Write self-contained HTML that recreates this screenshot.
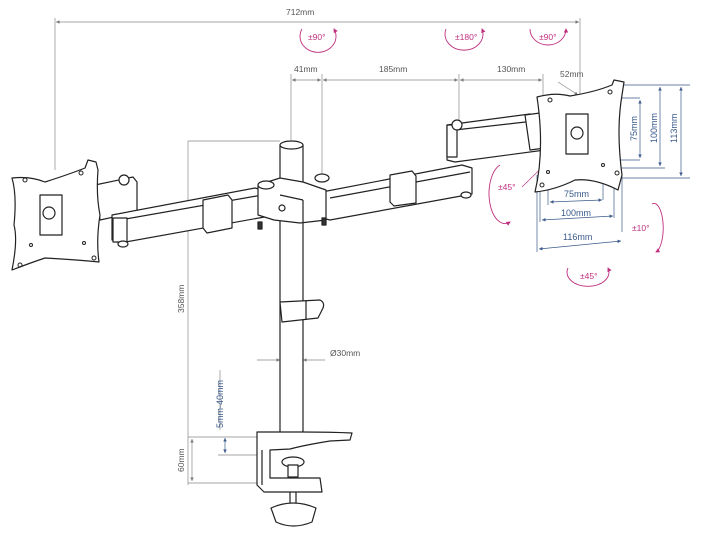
<!DOCTYPE html>
<html><head><meta charset="utf-8"><style>
html,body{margin:0;padding:0;background:#fff;}
svg{display:block;}
text{font-family:"Liberation Sans",sans-serif;}
</style></head><body>
<svg width="701" height="540" viewBox="0 0 701 540" xmlns="http://www.w3.org/2000/svg">
<defs>
<marker id="a" markerWidth="6" markerHeight="6" refX="5" refY="3" orient="auto-start-reverse"><path d="M0,0.5 L5,3 L0,5.5z" fill="#777"/></marker>
<marker id="b" markerWidth="6" markerHeight="6" refX="5" refY="3" orient="auto-start-reverse"><path d="M0,0.5 L5,3 L0,5.5z" fill="#3a5a8a"/></marker>
<marker id="m" markerWidth="6" markerHeight="6" refX="4" refY="3" orient="auto"><path d="M0,0.5 L5,3 L0,5.5z" fill="#c0307f"/></marker>
</defs>
<g stroke="#888" stroke-width="0.7" fill="none">
<line x1="55" y1="18" x2="55" y2="170"/><line x1="580" y1="18" x2="580" y2="95"/>
<line x1="56" y1="22" x2="579" y2="22" marker-start="url(#a)" marker-end="url(#a)"/>
<line x1="291" y1="74" x2="291" y2="140"/><line x1="322" y1="74" x2="322" y2="175"/><line x1="459" y1="74" x2="459" y2="125"/><line x1="543" y1="74" x2="543" y2="95"/>
<line x1="292" y1="80" x2="321" y2="80" marker-start="url(#a)" marker-end="url(#a)"/>
<line x1="323" y1="80" x2="458" y2="80" marker-start="url(#a)" marker-end="url(#a)"/>
<line x1="460" y1="80" x2="542" y2="80" marker-start="url(#a)" marker-end="url(#a)"/>
<line x1="558" y1="82" x2="578" y2="95" marker-end="url(#a)"/>
<line x1="188" y1="141" x2="280" y2="141"/><line x1="188" y1="141" x2="188" y2="485"/>
<line x1="188" y1="437" x2="258" y2="437"/><line x1="188" y1="483" x2="258" y2="483"/>
<line x1="192" y1="439" x2="192" y2="481" marker-start="url(#a)" marker-end="url(#a)"/>
<line x1="257" y1="360" x2="280" y2="360" marker-end="url(#a)"/><line x1="325" y1="360" x2="303" y2="360" marker-end="url(#a)"/><line x1="280" y1="360" x2="303" y2="360"/>
</g>
<g fill="#555" font-size="8.5">
<text x="286" y="15">712mm</text>
<text x="294" y="72">41mm</text><text x="379" y="72">185mm</text><text x="497" y="72">130mm</text><text x="560" y="77">52mm</text>
<text x="330" y="356">Ø30mm</text>
<text transform="translate(184,313) rotate(-90)">358mm</text>
<text transform="translate(184,472) rotate(-90)">60mm</text>
</g>
<g stroke="#3a5a8a" stroke-width="0.7" fill="none">
<line x1="220" y1="370" x2="220" y2="430" stroke="#888"/>
<line x1="225" y1="438" x2="225" y2="453" marker-start="url(#b)" marker-end="url(#b)"/>
<line x1="218" y1="455" x2="265" y2="455" stroke="#888"/>
<line x1="600" y1="98" x2="640" y2="98"/><line x1="610" y1="160" x2="640" y2="160"/>
<line x1="620" y1="85" x2="690" y2="85"/><line x1="622" y1="168" x2="665" y2="168"/><line x1="622" y1="178" x2="690" y2="178"/>
<line x1="640" y1="100" x2="640" y2="158" marker-start="url(#b)" marker-end="url(#b)"/>
<line x1="660" y1="87" x2="660" y2="166" marker-start="url(#b)" marker-end="url(#b)"/>
<line x1="681" y1="87" x2="681" y2="176" marker-start="url(#b)" marker-end="url(#b)"/>
<line x1="537" y1="175" x2="537" y2="252"/><line x1="548" y1="172" x2="548" y2="205"/><line x1="540" y1="185" x2="540" y2="222"/>
<line x1="603" y1="165" x2="603" y2="200"/><line x1="614" y1="170" x2="614" y2="218"/><line x1="622" y1="175" x2="622" y2="232"/>
<line x1="550" y1="202" x2="602" y2="200" marker-start="url(#b)" marker-end="url(#b)"/>
<line x1="542" y1="220" x2="613" y2="216" marker-start="url(#b)" marker-end="url(#b)"/>
<line x1="539" y1="249" x2="621" y2="241" marker-start="url(#b)" marker-end="url(#b)"/>
<line x1="575" y1="135" x2="522" y2="187" stroke="#c0307f" stroke-width="0.6"/>
</g>
<g fill="#3a5a8a" font-size="9">
<text transform="translate(223,428) rotate(-90)">5mm-40mm</text>
<text transform="translate(637,141) rotate(-90)">75mm</text>
<text transform="translate(657,143) rotate(-90)">100mm</text>
<text transform="translate(677,143) rotate(-90)">113mm</text>
<text x="564" y="197">75mm</text><text x="561" y="216">100mm</text><text x="563" y="240">116mm</text>
</g>
<g stroke="#c0307f" stroke-width="0.9" fill="none">
<path d="M302,29 A18,16 0 1 0 334,29" marker-end="url(#m)"/>
<path d="M446,29 A19,16 0 1 0 482,29" marker-end="url(#m)"/>
<path d="M530,29 A18,16 0 1 0 566,29" marker-end="url(#m)"/>
<path d="M500,165 A16,30 0 0 0 510,222" marker-end="url(#m)"/>
<path d="M652,204 A9,24 0 0 1 656,252" marker-end="url(#m)"/>
<path d="M568,268 A21,14 0 1 0 608,268" marker-end="url(#m)"/>
</g>
<g fill="#c0307f" font-size="8.5">
<text x="308" y="40">±90°</text><text x="455" y="40">±180°</text><text x="539" y="40">±90°</text>
<text x="498" y="190">±45°</text><text x="632" y="231">±10°</text><text x="580" y="279">±45°</text>
</g>
<g stroke="#222" stroke-width="1.2" fill="#fff" stroke-linejoin="round">
<rect x="280" y="145" width="23" height="300"/>
<ellipse cx="291.5" cy="145" rx="11.5" ry="4"/>
<polygon points="95,185 133,177 137,182 137,212 100,220"/>
<circle cx="124" cy="180" r="5"/>
<polygon points="112,215 255,188 270,192 270,216 120,243 112,240"/>
<line x1="120" y1="220" x2="268" y2="194"/>
<rect x="113" y="218" width="14" height="24"/>
<polygon points="203,200 228,195 232,200 232,228 207,233 203,228"/>
<ellipse cx="123" cy="244" rx="5" ry="3"/>
<polygon points="322,192 462,165 472,168 472,194 330,220 322,218"/>
<line x1="330" y1="198" x2="470" y2="172"/>
<polygon points="390,175 412,171 416,176 416,203 394,206 390,202"/>
<ellipse cx="466" cy="195" rx="5" ry="3"/>
<ellipse cx="322" cy="178" rx="7" ry="4"/>
<polygon points="447,125 530,114 545,118 545,150 455,162 447,160"/>
<line x1="455" y1="130" x2="543" y2="120"/>
<rect x="447" y="125" width="10" height="32"/>
<polygon points="525,115 540,113 545,118 545,148 530,150"/>
<circle cx="457" cy="125" r="5"/>
<polygon points="258,185 280,178 303,182 326,190 326,220 300,223 274,220 258,215"/>
<line x1="280" y1="195" x2="303" y2="200"/><line x1="303" y1="200" x2="303" y2="222"/>
<ellipse cx="266" cy="185" rx="8" ry="4"/>
<circle cx="282" cy="208" r="3"/>
<rect x="258" y="222" width="4" height="7" fill="#333"/><rect x="322" y="218" width="4" height="7" fill="#333"/>
<path d="M280,302 L320,300 Q326,303 322,310 L318,318 L282,322 Z"/>
<line x1="306" y1="301" x2="306" y2="320"/>
<path d="M257,432 L280,432 L303,432 Q330,432 352,433 L350,440 L330,441 Q305,445 290,449 L270,450 L270,478 L320,478 L322,492 L264,492 L257,485 Z"/>
<line x1="262" y1="450" x2="262" y2="485"/>
<ellipse cx="293" cy="462" rx="11" ry="5"/>
<rect x="288" y="465" width="10" height="12"/>
<line x1="290" y1="492" x2="290" y2="505"/><line x1="296" y1="492" x2="296" y2="505"/>
<path d="M271,508 Q293,498 316,508 L312,522 Q293,530 276,522 Z"/>
<path d="M12,178 Q30,176 45,182 Q70,174 85,168 L88,160 L96,162 L98,170 Q96,195 100,215 Q96,240 99,262 Q80,260 45,258 Q30,263 12,270 Q18,240 14,225 Q17,195 12,178 Z"/>
<rect x="40" y="195" width="22" height="40"/><circle cx="49" cy="213" r="6"/>
<path d="M537,97 Q555,92 570,96 Q595,92 612,85 L614,80 L624,82 L622,95 Q616,130 622,175 L618,190 Q595,178 575,180 Q555,190 535,192 Q545,150 537,97 Z"/>
<rect x="566" y="114" width="22" height="40"/><circle cx="577" cy="133" r="6"/>
</g>
<g fill="none" stroke="#222" stroke-width="1">
<circle cx="25" cy="180" r="2"/><circle cx="81" cy="173" r="2"/><circle cx="20" cy="265" r="2"/><circle cx="94" cy="258" r="2"/>
<circle cx="550" cy="100" r="2"/><circle cx="610" cy="92" r="2"/><circle cx="542" cy="185" r="2"/><circle cx="617" cy="173" r="2"/>
<circle cx="548" cy="172" r="1.5"/><circle cx="603" cy="165" r="1.5"/><circle cx="31" cy="245" r="1.5"/><circle cx="84" cy="243" r="1.5"/>
</g>
</svg>
</body></html>
